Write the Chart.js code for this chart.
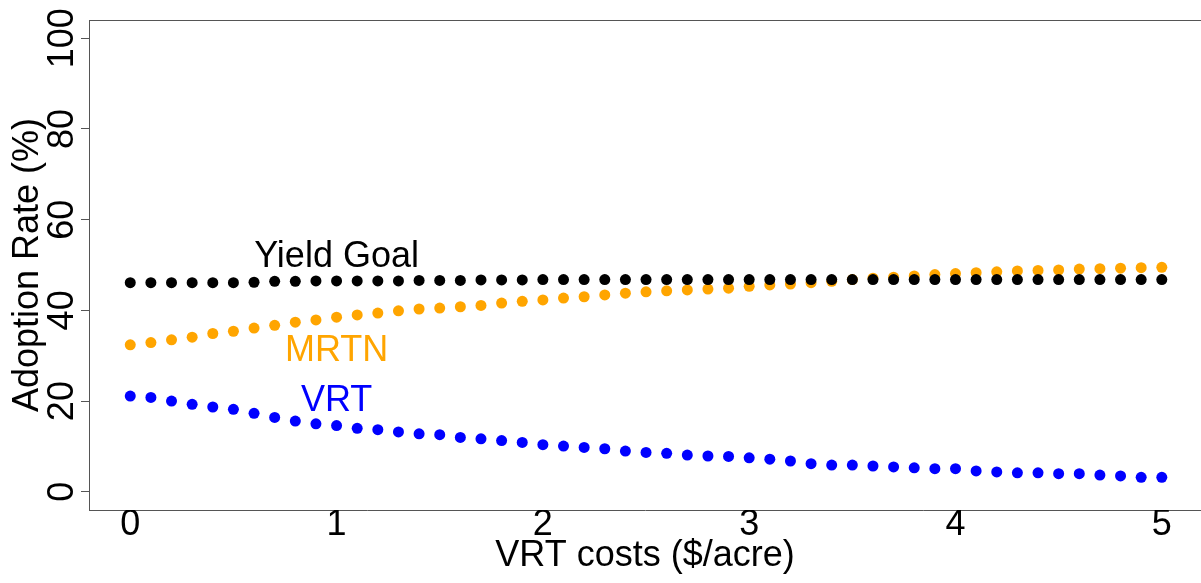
<!DOCTYPE html>
<html>
<head>
<meta charset="utf-8">
<title>Adoption rate vs VRT costs</title>
<script src="https://cdn.jsdelivr.net/npm/chart.js@4"></script>
<style>
  html, body { margin: 0; padding: 0; background: #fff; }
  #wrap { width: 1201px; height: 583px; }
</style>
</head>
<body>
<div id="wrap"><canvas id="adoptChart" width="1201" height="583"></canvas></div>
<script>
// VRT cost steps ($/acre)
const costs = [0, 0.1, 0.2, 0.3, 0.4, 0.5, 0.6, 0.7, 0.8, 0.9,
  1, 1.1, 1.2, 1.3, 1.4, 1.5, 1.6, 1.7, 1.8, 1.9,
  2, 2.1, 2.2, 2.3, 2.4, 2.5, 2.6, 2.7, 2.8, 2.9,
  3, 3.1, 3.2, 3.3, 3.4, 3.5, 3.6, 3.7, 3.8, 3.9,
  4, 4.1, 4.2, 4.3, 4.4, 4.5, 4.6, 4.7, 4.8, 4.9, 5];

// adoption rates (%)
const yieldGoal = [46.1, 46.1, 46.1, 46.1, 46.1, 46.1, 46.2, 46.4, 46.4, 46.5,
  46.5, 46.5, 46.5, 46.5, 46.6, 46.6, 46.6, 46.7, 46.7, 46.7,
  46.8, 46.8, 46.8, 46.8, 46.8, 46.8, 46.8, 46.8, 46.8, 46.8,
  46.8, 46.8, 46.8, 46.8, 46.8, 46.8, 46.8, 46.8, 46.8, 46.8,
  46.8, 46.8, 46.8, 46.8, 46.8, 46.8, 46.8, 46.8, 46.8, 46.8, 46.8];
const mrtn = [32.4, 32.9, 33.5, 34.1, 34.9, 35.4, 36.1, 36.7, 37.4, 37.9,
  38.5, 39.0, 39.4, 39.9, 40.3, 40.5, 40.8, 41.1, 41.6, 42.0,
  42.3, 42.7, 43.0, 43.4, 43.8, 44.1, 44.3, 44.5, 44.7, 44.9,
  45.3, 45.6, 45.8, 46.1, 46.4, 46.8, 47.1, 47.3, 47.6, 47.9,
  48.1, 48.3, 48.5, 48.7, 48.8, 48.9, 49.1, 49.2, 49.3, 49.4, 49.5];
const vrt = [21.1, 20.8, 20.0, 19.3, 18.7, 18.2, 17.3, 16.4, 15.6, 15.0,
  14.6, 14.0, 13.7, 13.2, 12.8, 12.6, 12.0, 11.7, 11.3, 10.9,
  10.4, 10.1, 9.8, 9.5, 9.0, 8.7, 8.5, 8.1, 7.9, 7.8,
  7.5, 7.2, 6.8, 6.2, 5.9, 5.9, 5.7, 5.5, 5.3, 5.1,
  5.1, 4.6, 4.4, 4.2, 4.2, 4.0, 4.0, 3.7, 3.5, 3.2, 3.2];

const xTicks = [0, 1, 2, 3, 4, 5];
const yTicks = [0, 20, 40, 60, 80, 100];

// text labels placed next to the series (data coords)
const notes = [
  { text: 'Yield Goal', x: 1, y: 51.8, color: '#000000' },
  { text: 'MRTN', x: 1, y: 31, color: '#FFA500' },
  { text: 'VRT', x: 1, y: 20, color: '#0000FF' }
];

const FONT = "'Liberation Sans', Arial, sans-serif";
const frameColor = '#555555';

const toPoints = (ys) => costs.map((c, i) => ({ x: c, y: ys[i] }));

// top edge of the box + rotated y tick labels + series notes
const extras = {
  id: 'extras',
  afterDraw(chart) {
    const { ctx, chartArea, scales } = chart;
    ctx.save();
    ctx.strokeStyle = frameColor;
    ctx.lineWidth = 1;
    ctx.beginPath();
    ctx.moveTo(chartArea.left, chartArea.top + 0.5);
    ctx.lineTo(chartArea.right, chartArea.top + 0.5);
    ctx.stroke();

    ctx.fillStyle = '#000';
    ctx.font = '36px ' + FONT;
    ctx.textAlign = 'center';
    ctx.textBaseline = 'alphabetic';
    const yx = scales.y.right - 16;
    scales.y.ticks.forEach(t => {
      const py = scales.y.getPixelForValue(t.value);
      ctx.save();
      ctx.translate(yx, py);
      ctx.rotate(-Math.PI / 2);
      ctx.fillText(String(t.value), 0, 0);
      ctx.restore();
    });

    ctx.textBaseline = 'middle';
    notes.forEach(n => {
      ctx.fillStyle = n.color;
      ctx.fillText(n.text, scales.x.getPixelForValue(n.x), scales.y.getPixelForValue(n.y));
    });
    ctx.restore();
  }
};

new Chart(document.querySelector('#adoptChart'), {
  type: 'scatter',
  data: {
    datasets: [
      { label: 'Yield Goal', data: toPoints(yieldGoal), backgroundColor: '#000000' },
      { label: 'MRTN', data: toPoints(mrtn), backgroundColor: '#FFA500' },
      { label: 'VRT', data: toPoints(vrt), backgroundColor: '#0000FF' }
    ]
  },
  options: {
    responsive: false,
    animation: false,
    layout: { autoPadding: false, padding: { top: 20, left: 0, right: 0, bottom: 0 } },
    elements: { point: { radius: 5.5, borderWidth: 0, hoverRadius: 5.5 } },
    scales: {
      x: {
        type: 'linear',
        min: -0.2,
        max: 5.19,
        afterBuildTicks: (axis) => { axis.ticks = xTicks.map(v => ({ value: v })); },
        afterFit: (axis) => {
          axis.height = 73;
          axis.paddingLeft = 0;
          axis.paddingRight = 0;
        },
        grid: { drawOnChartArea: false, drawTicks: false },
        border: { display: true, color: frameColor, width: 1 },
        ticks: {
          color: '#000',
          padding: -3,
          maxRotation: 0,
          font: { family: FONT, size: 36, lineHeight: 1 }
        },
        title: {
          display: true,
          text: 'VRT costs ($/acre)',
          color: '#000',
          font: { family: FONT, size: 36, lineHeight: 1 },
          padding: { top: 0, bottom: 9 }
        }
      },
      y: {
        min: -4,
        max: 104,
        afterBuildTicks: (axis) => { axis.ticks = yTicks.map(v => ({ value: v })); },
        afterFit: (axis) => { axis.width = 89; },
        grid: { drawOnChartArea: false, drawTicks: true, tickLength: 8, color: frameColor },
        border: { display: true, color: frameColor, width: 1 },
        ticks: { display: false },
        title: {
          display: true,
          text: 'Adoption Rate (%)',
          color: '#000',
          font: { family: FONT, size: 36, lineHeight: 1 },
          padding: { top: 10, bottom: 0 }
        }
      }
    },
    plugins: {
      legend: { display: false },
      tooltip: { enabled: false }
    }
  },
  plugins: [extras]
});
</script>
</body>
</html>
